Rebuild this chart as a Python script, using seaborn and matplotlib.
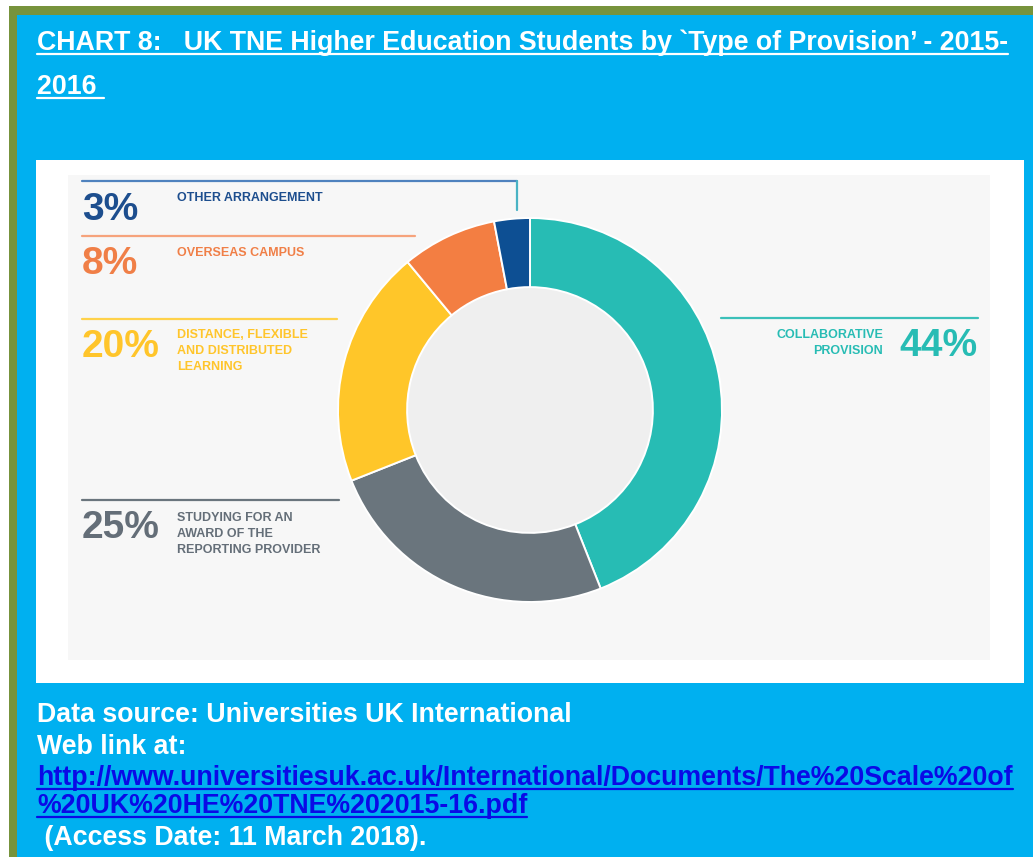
import matplotlib
matplotlib.use("Agg")
import matplotlib.pyplot as plt
from matplotlib.patches import Rectangle, Circle
from matplotlib.lines import Line2D
from matplotlib.transforms import IdentityTransform
import seaborn as sns

# ---- data -------------------------------------------------------------
categories = [
    "COLLABORATIVE\nPROVISION",
    "STUDYING FOR AN\nAWARD OF THE\nREPORTING PROVIDER",
    "DISTANCE, FLEXIBLE\nAND DISTRIBUTED\nLEARNING",
    "OVERSEAS CAMPUS",
    "OTHER ARRANGEMENT",
]
shares = [44, 25, 20, 8, 3]
title_lines = [
    "CHART 8:   UK TNE Higher Education Students by `Type of Provision\u2019 - 2015-",
    "2016 ",
]
source_line = "Data source: Universities UK International"
link_caption = "Web link at:"
link_lines = [
    "http://www.universitiesuk.ac.uk/International/Documents/The%20Scale%20of",
    "%20UK%20HE%20TNE%202015-16.pdf",
]
access_line = " (Access Date: 11 March 2018)."

# ---- style ------------------------------------------------------------
sns.set_theme(style="white")
plt.rcParams["font.family"] = ["Liberation Sans", "DejaVu Sans"]

palette = sns.color_palette(["#27BCB4", "#6A757D", "#FFC629", "#F37E42", "#0D4F93"])
text_cols = ["#27BCB4", "#646E78", "#FFC52B", "#F07F47", "#1D4E8E"]
rule_cols = ["#3BC0B9", "#6A757D", "#FFD24A", "#F6A37C", "#4F82BE"]

W, H = 1033, 857
fig = plt.figure(figsize=(W / 100, H / 100), dpi=100)
fig.patch.set_facecolor("white")

# page-level canvas in pixel coordinates (y downwards)
bg = fig.add_axes([0, 0, 1, 1])
bg.set_xlim(0, W)
bg.set_ylim(H, 0)
bg.axis("off")

bg.add_patch(Rectangle((9, 6), W - 9, H - 6, color="#77933C", lw=0))
bg.add_patch(Rectangle((17, 15), W - 17, H - 15, color="#00B0F0", lw=0))
bg.add_patch(Rectangle((36, 160), 988, 523, color="white", lw=0))
bg.add_patch(Rectangle((68, 175), 922, 485, color="#F7F7F7", lw=0))

# ---- donut -------------------------------------------------------------
cx, cy, R = 530, 410, 192
pie_ax = fig.add_axes([(cx - R) / W, (H - cy - R) / H, 2 * R / W, 2 * R / H])
pie_ax.add_patch(Circle((0, 0), 0.64, color="#EFEFEF", lw=0, zorder=0))
pie_ax.pie(
    shares,
    colors=palette,
    startangle=90,
    counterclock=False,
    radius=1.0,
    wedgeprops=dict(width=0.36, edgecolor="white", linewidth=1.4),
)
pie_ax.set_xlim(-1, 1)
pie_ax.set_ylim(-1, 1)
pie_ax.set_aspect("equal")
pie_ax.axis("off")

# ---- callouts ------------------------------------------------------------
# (index, rule x-range, rule y, pct x, pct y, label x, label top, alignment)
callouts = [
    (4, (82, 517), 181, 82, 210, 177, 192, "left"),
    (3, (82, 415), 236, 82, 264, 177, 247, "left"),
    (2, (82, 337), 319, 82, 347, 177, 329, "left"),
    (1, (82, 339), 500, 82, 528, 177, 512, "left"),
    (0, (721, 978), 318, 978, 346, 883, 329, "right"),
]
for idx, (x0, x1), ry, px, py, lx, ly, align in callouts:
    bg.add_line(Line2D([x0, x1], [ry, ry], color=rule_cols[idx], lw=1.6))
    bg.text(px, py, f"{shares[idx]}%", weight="bold", fontsize=28,
            color=text_cols[idx], ha=align, va="center")
    bg.text(lx, ly, categories[idx], weight="bold", fontsize=9,
            color=text_cols[idx], ha=align, va="top", multialignment=align,
            linespacing=1.42)
# connector dropping towards the smallest wedge
bg.add_line(Line2D([517, 517], [181, 210], color="#49B3C4", lw=1.6))

# ---- header and footer ---------------------------------------------------
FS = 19.25
texts_to_underline = []
t = bg.text(37, 50, title_lines[0], fontsize=FS, weight="bold", color="white",
            va="baseline")
texts_to_underline.append((t, "white"))
t = bg.text(37, 94, title_lines[1], fontsize=FS, weight="bold", color="white",
            va="baseline")
texts_to_underline.append((t, "white"))

bg.text(37, 722, source_line, fontsize=FS, weight="bold", color="white", va="baseline")
bg.text(37, 754, link_caption, fontsize=FS, weight="bold", color="white", va="baseline")
for i, line in enumerate(link_lines):
    t = bg.text(37, 785 + 28 * i, line, fontsize=FS, weight="bold", color="#0A0AE6",
                va="baseline")
    texts_to_underline.append((t, "#0A0AE6"))
bg.text(37, 845, access_line, fontsize=FS, weight="bold", color="white", va="baseline")

fig.canvas.draw()
renderer = fig.canvas.get_renderer()
for t, col in texts_to_underline:
    bb = t.get_window_extent(renderer)
    base_disp = bg.transData.transform((0, t.get_position()[1]))[1]
    y = base_disp - 3.5
    fig.add_artist(Line2D([bb.x0, bb.x1], [y, y], color=col, lw=1.6,
                          transform=IdentityTransform()))

fig.savefig("out.png", dpi=100, facecolor=fig.get_facecolor())
